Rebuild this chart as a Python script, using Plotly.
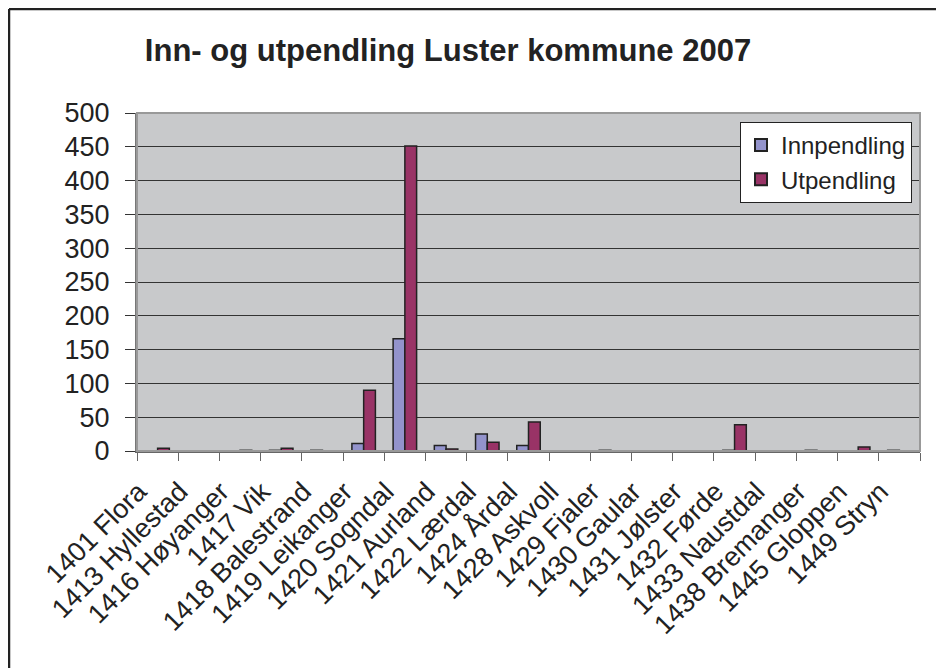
import plotly.graph_objects as go

categories = ["1401 Flora", "1413 Hyllestad", "1416 Høyanger", "1417 Vik", "1418 Balestrand",
              "1419 Leikanger", "1420 Sogndal", "1421 Aurland", "1422 Lærdal", "1424 Årdal",
              "1428 Askvoll", "1429 Fjaler", "1430 Gaular", "1431 Jølster", "1432 Førde",
              "1433 Naustdal", "1438 Bremanger", "1445 Gloppen", "1449 Stryn"]
innpendling = [0, 0, 0, 1, 1, 11, 166, 8, 25, 8, 0, 1, 0, 0, 1, 0, 1, 0, 1]
utpendling = [4, 0, 1, 4, 0, 90, 451, 3, 13, 43, 0, 0, 0, 0, 39, 0, 0, 6, 0]
y_ticks = [0, 50, 100, 150, 200, 250, 300, 350, 400, 450, 500]

# page has an 8px body margin, so the figure is drawn 8px smaller
W, H = 936, 660
L, R, T, B = 129, 24, 105, 217
pw = W - L - R
ph = H - T - B

def px_x(x):
    return (x - L) / pw

def px_y(y):
    return (H - B - y) / ph

fig = go.Figure()
fig.add_trace(go.Bar(x=categories, y=innpendling, name="Innpendling",
                     marker=dict(color="#9393CC", line=dict(color="#222222", width=1.5))))
fig.add_trace(go.Bar(x=categories, y=utpendling, name="Utpendling",
                     marker=dict(color="#993366", line=dict(color="#222222", width=1.5))))

fig.update_layout(
    width=W, height=H,
    margin=dict(l=L, r=R, t=T, b=B, autoexpand=False),
    paper_bgcolor="white",
    plot_bgcolor="#C8C9CB",
    barmode="group",
    bargap=0.43,
    bargroupgap=0,
    font=dict(family="Liberation Sans, Arial, sans-serif", color="#222222"),
    title=dict(text="<b>Inn- og utpendling Luster kommune 2007</b>",
               x=440 / W, xanchor="center", y=1 - 42 / H, yanchor="middle",
               font=dict(size=31, color="#222222")),
    legend=dict(x=px_x(732), y=px_y(114), xanchor="left", yanchor="top",
                bgcolor="white", bordercolor="#222222", borderwidth=1,
                font=dict(size=24, color="#222222"), itemsizing="constant",
                tracegroupgap=0),
    showlegend=True,
)
fig.update_xaxes(
    type="category", tickson="boundaries", ticks="outside", ticklen=8,
    tickcolor="#666666", showline=True, linecolor="#666666", linewidth=2,
    tickangle=-45, tickfont=dict(size=27, color="#222222"), showgrid=False,
    automargin=False, ticklabelstandoff=12, ticklabelshift=-19,
)
fig.update_yaxes(
    range=[0, 500], tickvals=y_ticks, ticks="outside", ticklen=10, tickcolor="#333333",
    showline=True, linecolor="#777777", linewidth=2,
    gridcolor="#333333", gridwidth=1, tickfont=dict(size=27, color="#222222"),
    zeroline=False, ticklabelstandoff=10, automargin=False,
)
# plot-area frame
fig.add_shape(type="rect", xref="paper", yref="paper", x0=0, x1=1, y0=0, y1=1,
              line=dict(color="#999999", width=2), layer="above")
# outer chart border (top and left)
fig.add_shape(type="line", xref="paper", yref="paper",
              x0=px_x(1), x1=px_x(W), y0=px_y(1), y1=px_y(1),
              line=dict(color="#222222", width=2.5))
fig.add_shape(type="line", xref="paper", yref="paper",
              x0=px_x(1), x1=px_x(1), y0=px_y(1), y1=px_y(H),
              line=dict(color="#222222", width=2.5))

fig.write_html("out.html")
